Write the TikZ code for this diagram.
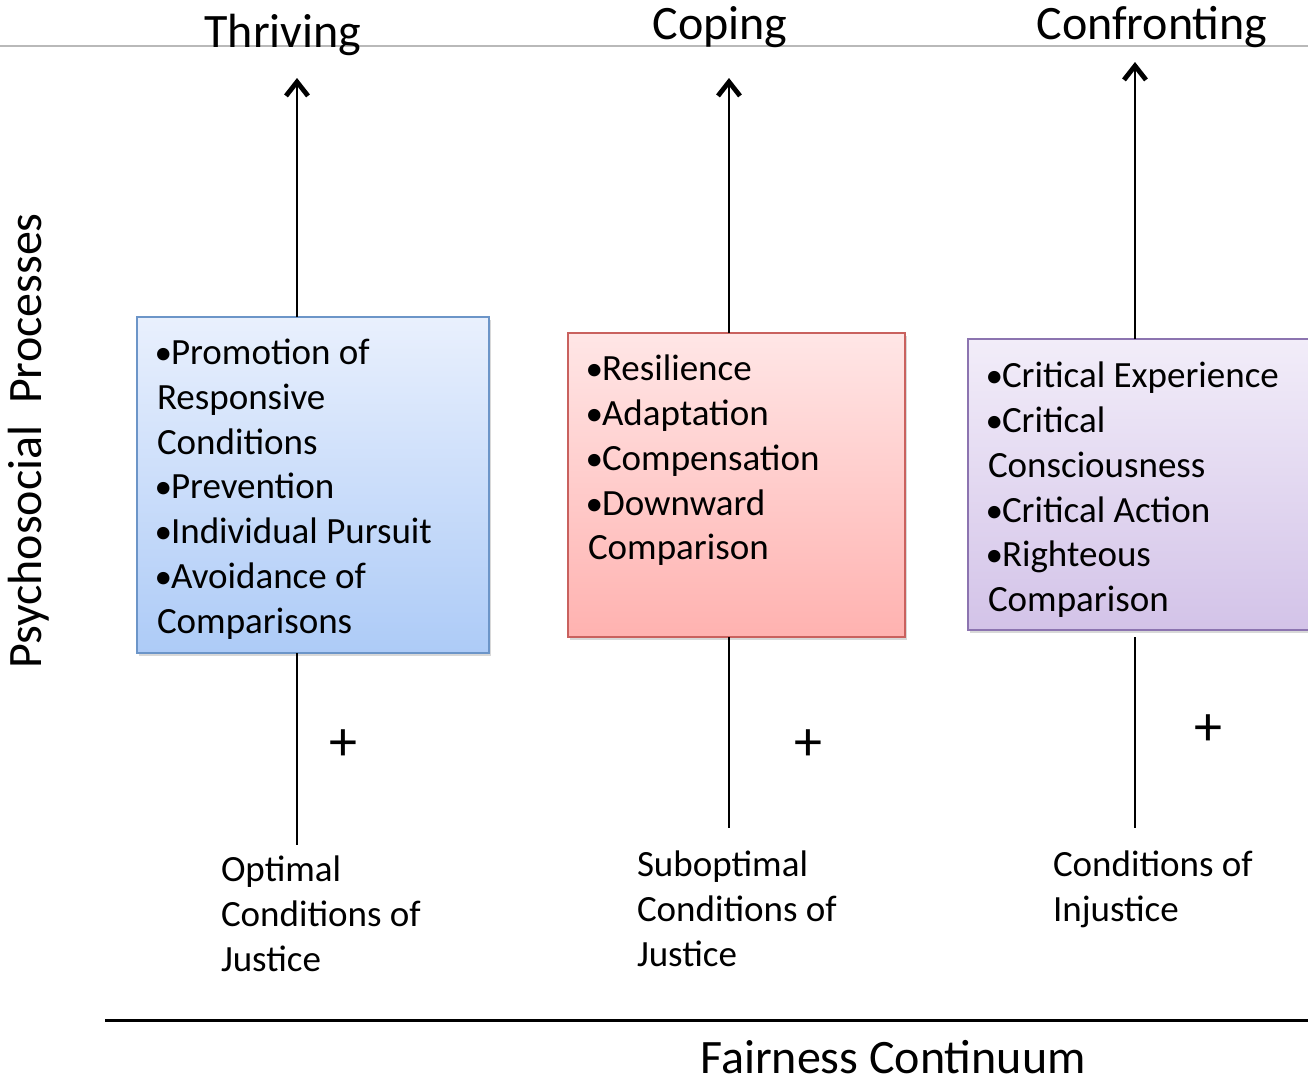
\documentclass[tikz,border=0pt]{standalone}
\usepackage{fontspec}
\setmainfont{Carlito}
\usepackage{xcolor}
\usepackage{graphicx}
\definecolor{colorThrivingTop}{HTML}{E9F0FD}
\definecolor{colorThrivingBottom}{HTML}{ADCBF7}
\definecolor{colorThrivingLine}{HTML}{6C95C8}
\definecolor{colorCopingTop}{HTML}{FFE6E6}
\definecolor{colorCopingBottom}{HTML}{FFB2B0}
\definecolor{colorCopingLine}{HTML}{C9615E}
\definecolor{colorConfrontTop}{HTML}{F2EDF9}
\definecolor{colorConfrontBottom}{HTML}{D3C3E8}
\definecolor{colorConfrontLine}{HTML}{8C74B0}
\newcommand{\bul}{\makebox[7pt][l]{\hspace{-1.2pt}\scalebox{0.95}{•}}}
\usetikzlibrary{arrows.meta, positioning, shadows}

\begin{document}
\begin{tikzpicture}[x=0.5pt, y=-0.5pt, >={Straight Barb[length=7pt,width=11pt,line width=2.4pt 0]}, line width=1.25pt,
  every node/.style={inner sep=0pt, outer sep=0pt},
  procbox/.style={draw, line width=0.9pt, anchor=north west, minimum width=176pt,
    drop shadow={shadow xshift=1.2pt, shadow yshift=-1.5pt, opacity=0.3}},
  itemlist/.style={align=left, anchor=north west, font=\fontsize{18.5}{22.4}\selectfont},
  heading/.style={anchor=base, font=\fontsize{24}{28}\selectfont},
  plus/.style={font=\fontsize{28}{28}\selectfont}]
\clip (0,0) rectangle (1308,1084);
\fill[white] (0,0) rectangle (1308,1084);
\draw[gray!55, line width=0.6pt] (0,46) -- (1308,46);

% headings
\node[heading] (thriving) at (283,47) {Thriving};
\node[heading] (coping) at (720,39) {Coping};
\node[heading] (confronting) at (1152,39) {Confronting};

% boxes
\node[procbox, minimum height=168pt, top color=colorThrivingTop, bottom color=colorThrivingBottom, draw=colorThrivingLine] (thrivebox) at (137,317) {};
\node[procbox, minimum width=168.5pt, minimum height=152pt, top color=colorCopingTop, bottom color=colorCopingBottom, draw=colorCopingLine] (copebox) at (568,333) {};
\node[procbox, minimum height=145.5pt, top color=colorConfrontTop, bottom color=colorConfrontBottom, draw=colorConfrontLine] (confrontbox) at (968,339) {};

\node[itemlist] (thrivelist) at (157,339) {\bul Promotion of\\Responsive\\Conditions\\\bul Prevention\\\bul Individual Pursuit\\\bul Avoidance of\\Comparisons};
\node[itemlist] (copelist) at (588,355) {\bul Resilience\\\bul Adaptation\\\bul Compensation\\\bul Downward\\Comparison};
\node[itemlist] (confrontlist) at (988,362) {\bul Critical Experience\\\bul Critical\\Consciousness\\\bul Critical Action\\\bul Righteous\\Comparison};

% arrows up
\coordinate (thrivetip) at (297,78);
\coordinate (copetip) at (729,78);
\coordinate (confronttip) at (1135,62);
\draw[->] (thrivebox.north -| thrivetip) -- (thrivetip);
\draw[->] (copebox.north -| copetip) -- (copetip);
\draw[->] (confrontbox.north -| confronttip) -- (confronttip);

% conditions
\coordinate (thrivebase) at (297,845);
\coordinate (copebase) at (729,828);
\coordinate (confronttop) at (1135,637);
\coordinate (confrontbase) at (1135,828);
\draw (thrivebox.south -| thrivebase) -- (thrivebase);
\draw (copebox.south -| copebase) -- (copebase);
\draw (confronttop) -- (confrontbase);

\node[plus] (thriveplus) at (343.5,745) {+};
\node[plus] (copeplus) at (808,745) {+};
\node[plus] (confrontplus) at (1208,730) {+};

\node[itemlist] (optimal) at (221,856) {Optimal\\Conditions of\\Justice};
\node[itemlist] (suboptimal) at (637,851) {Suboptimal\\Conditions of\\Justice};
\node[itemlist] (injustice) at (1053,851) {Conditions of\\Injustice};

% axes
\draw[line width=1.5pt] (105,1020) -- (1308,1020);
\node[heading] (fairness) at (893,1073) {Fairness Continuum};
\node[heading, rotate=90] (psycho) at (41,441) {Psychosocial\ \ Processes};
\end{tikzpicture}
\end{document}
